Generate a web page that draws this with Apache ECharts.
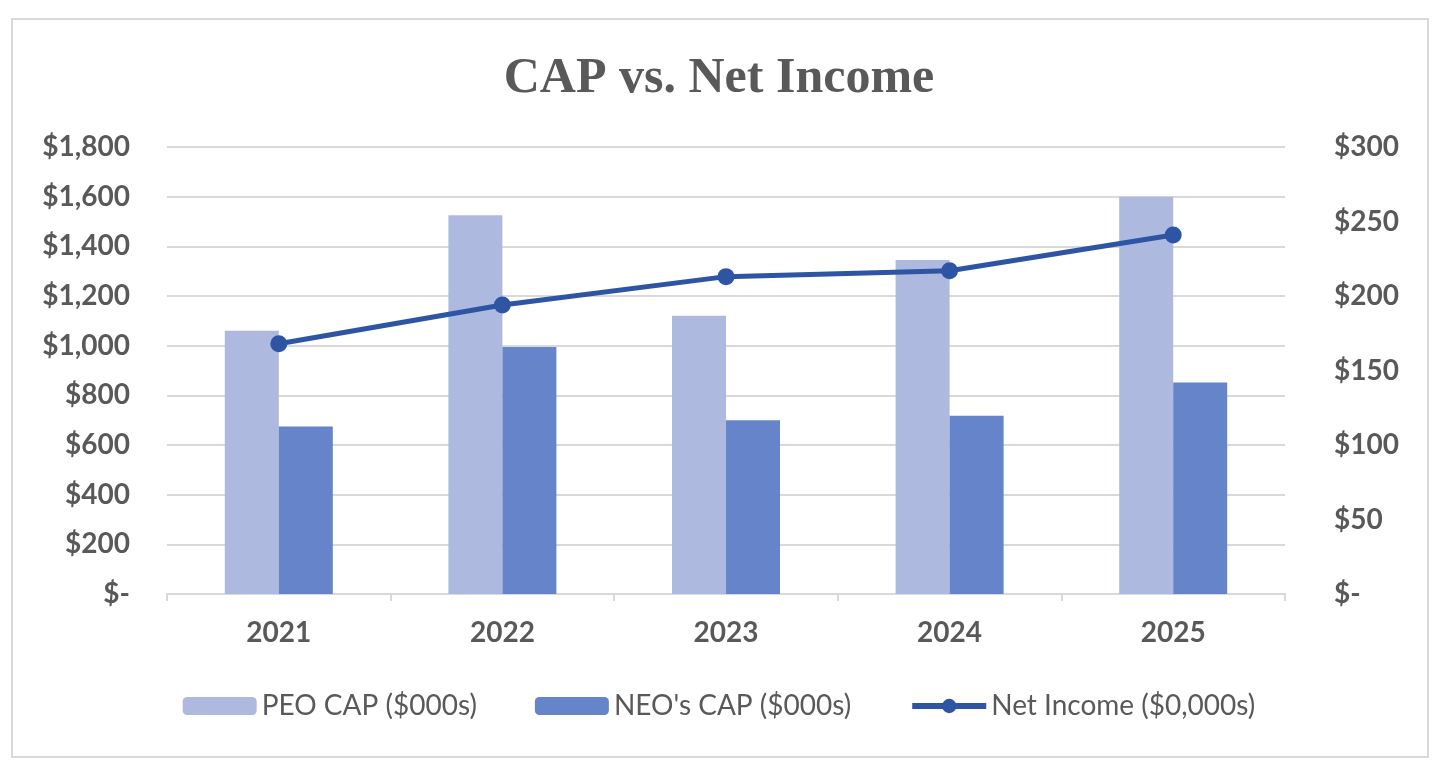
<!DOCTYPE html>
<html>
<head>
<meta charset="utf-8">
<script src="https://cdn.jsdelivr.net/npm/echarts@6/dist/echarts.min.js"></script>
<style>
html,body{margin:0;padding:0;background:#fff;}
#chart{width:1438px;height:776px;}
</style>
</head>
<body>
<div id="chart"></div>
<script>
var categories = ['2021', '2022', '2023', '2024', '2025'];
var peoCap = [1060, 1525, 1120, 1345, 1600];
var neoCap = [675, 995, 700, 718, 852];
var netIncome = [168, 194, 213, 217, 241];
var seriesNames = ['PEO CAP ($000s)', "NEO's CAP ($000s)", 'Net Income ($0,000s)'];

function money(v) {
  return v === 0 ? '$-' : '$' + v.toLocaleString('en-US');
}

var chart = echarts.init(document.getElementById('chart'));
var labelStyle = { color: '#595959', fontFamily: 'Lato', fontWeight: 'bold', fontSize: 28 };

chart.setOption({
  animation: false,
  backgroundColor: '#ffffff',
  graphic: [{
    type: 'rect',
    shape: { x: 12, y: 19, width: 1416, height: 738 },
    style: { fill: 'none', stroke: '#d9d9d9', lineWidth: 2 },
    silent: true
  }],
  title: {
    text: 'CAP vs. Net Income',
    left: 'center',
    top: 49,
    textStyle: { fontFamily: 'Liberation Serif', fontWeight: 'bold', fontSize: 50, color: '#595959' }
  },
  legend: {
    bottom: 51,
    left: 'center',
    itemWidth: 74,
    itemHeight: 18,
    itemGap: 58,
    textStyle: { color: '#595959', fontFamily: 'Lato', fontSize: 28 },
    data: [
      { name: seriesNames[0] },
      { name: seriesNames[1] },
      { name: seriesNames[2], lineStyle: { width: 6, color: '#2e55a3' }, itemStyle: { color: '#2e55a3' } }
    ]
  },
  grid: { left: 167, right: 153, top: 147, bottom: 182 },
  xAxis: {
    type: 'category',
    data: categories,
    axisLine: { lineStyle: { color: '#d9d9d9', width: 2 } },
    axisTick: { show: true, length: 7, lineStyle: { color: '#d9d9d9', width: 2 } },
    axisLabel: Object.assign({ margin: 25 }, labelStyle)
  },
  yAxis: [{
    type: 'value', min: 0, max: 1800, interval: 200,
    axisLine: { show: false }, axisTick: { show: false },
    splitLine: { lineStyle: { color: '#d9d9d9', width: 2 } },
    axisLabel: Object.assign({ margin: 37, formatter: money }, labelStyle)
  }, {
    type: 'value', min: 0, max: 300, interval: 50,
    axisLine: { show: false }, axisTick: { show: false },
    splitLine: { show: false },
    axisLabel: Object.assign({ margin: 49, formatter: money }, labelStyle)
  }],
  series: [{
    name: seriesNames[0], type: 'bar', data: peoCap,
    barWidth: 54, barGap: '0%',
    itemStyle: { color: '#adb9de' }
  }, {
    name: seriesNames[1], type: 'bar', data: neoCap,
    barWidth: 54, barGap: '0%',
    itemStyle: { color: '#6584c9' }
  }, {
    name: seriesNames[2], type: 'line', data: netIncome, yAxisIndex: 1,
    symbol: 'circle', symbolSize: 17,
    lineStyle: { color: '#2e55a3', width: 5 },
    itemStyle: { color: '#2e55a3' }
  }]
});
</script>
</body>
</html>
